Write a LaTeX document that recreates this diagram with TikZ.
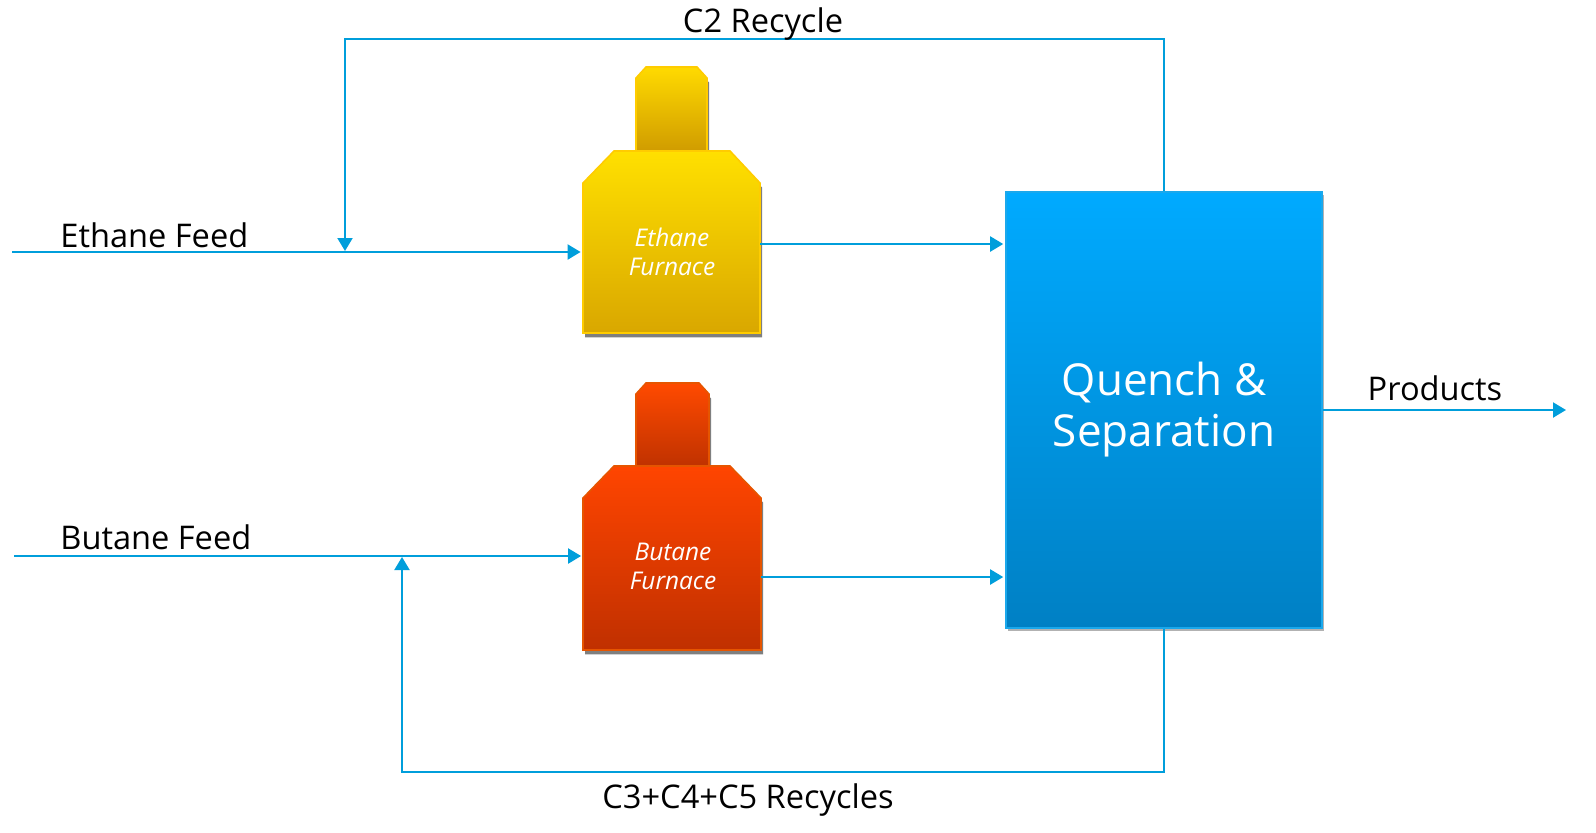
\documentclass[tikz,border=0pt]{standalone}
\usepackage{fontspec}
\setmainfont{Open Sans}
\usetikzlibrary{arrows.meta,shadows,calc}
\definecolor{flow}{HTML}{009EDB}
\definecolor{qtop}{HTML}{00AAFF}
\definecolor{qbot}{HTML}{0080C4}
\definecolor{qborder}{HTML}{1AA8EC}
\definecolor{ytop}{HTML}{FFE000}
\definecolor{ybot}{HTML}{D9A700}
\definecolor{yborder}{HTML}{FFCC00}
\definecolor{yntop}{HTML}{FFDA00}
\definecolor{ynbot}{HTML}{D09C00}
\definecolor{otop}{HTML}{FF4500}
\definecolor{obot}{HTML}{C03000}
\definecolor{oborder}{HTML}{E65500}
\definecolor{ontop}{HTML}{FF4A00}
\definecolor{onbot}{HTML}{C03200}
\begin{document}
\begin{tikzpicture}[x=0.5pt,y=-0.5pt,
  flowline/.style={draw=flow,line width=1.05pt},
  arr/.style={flowline,-{Triangle[length=6.5pt,width=7.5pt]}},
  lbl/.style={font=\fontsize{16.3}{19}\selectfont,text=black,inner sep=0pt},
  furnshadow/.style={drop shadow={shadow xshift=1pt,shadow yshift=-2.2pt,opacity=0.5,fill=black}},
  furntext/.style={font=\fontsize{12.2}{14.5}\selectfont\itshape,text=white,align=center,inner sep=0pt},
  furnbox/.style={minimum width=88.5pt,draw=none,fill=none},
  qbox/.style={draw=qborder,line width=0.8pt,top color=qtop,bottom color=qbot,
    minimum width=158pt,minimum height=218pt,text=white,align=center,
    font=\fontsize{22}{25.5}\selectfont,
    drop shadow={shadow xshift=1pt,shadow yshift=-1.5pt,opacity=0.3,fill=black}}
]
\useasboundingbox (0,0) rectangle (1596,832);

% ---- Ethane furnace
\path[furnshadow,draw=yborder,line width=0.8pt,top color=yntop,bottom color=ynbot]
  (636,151) -- (636,78) -- (646,67) -- (697,67) -- (707,78) -- (707,151) -- cycle;
\path[furnshadow,draw=yborder,line width=0.8pt,top color=ytop,bottom color=ybot]
  (583,333) -- (583,183) -- (614,151) -- (730,151) -- (760,183) -- (760,333) -- cycle;
\node[furnbox,minimum height=81pt] (ef) at (671.5,252) {};
\node[furntext] (eft) at (672,252) {Ethane\\Furnace};

% ---- Butane furnace
\path[furnshadow,draw=oborder,line width=0.8pt,top color=ontop,bottom color=onbot]
  (636,466) -- (636,394) -- (646,383) -- (699,383) -- (709,394) -- (709,466) -- cycle;
\path[furnshadow,draw=oborder,line width=0.8pt,top color=otop,bottom color=obot]
  (583,650) -- (583,498) -- (614,466) -- (730,466) -- (761,498) -- (761,650) -- cycle;
\node[furnbox,minimum height=84pt] (bf) at (672,566) {};
\node[furntext] (bft) at (673,566) {Butane\\Furnace};

% ---- Quench & Separation
\node[qbox] (qs) at (1164,410) {Quench \&\\Separation};

% ---- feeds
\coordinate (efin) at (12,252);
\coordinate (bfin) at (14,556);
\draw[arr,shorten >=1pt] (efin) -- (efin -| ef.west);
\draw[arr,shorten >=1pt] (bfin) -- (bfin -| bf.west);
\node[lbl,anchor=base west] (efl) at (60,247) {Ethane Feed};
\node[lbl,anchor=base west] (bfl) at (60,549) {Butane Feed};

% ---- furnace outlets
\draw[arr,shorten >=1pt] ($(ef.east)+(0,-8)$) coordinate (eo) -- (eo -| qs.west);
\draw[arr,shorten >=1pt] ($(bf.east)+(0,11)$) coordinate (bo) -- (bo -| qs.west);

% ---- products
\coordinate (prod) at (1566,410);
\draw[arr] (qs.east) -- (prod);
\node[lbl,anchor=base] (prodl) at (1435,400) {Products};

% ---- C2 recycle
\coordinate (c2c) at (345,39);
\draw[arr,shorten >=0.5pt] (qs.north) |- (c2c) -- (c2c |- efin);
\node[lbl,anchor=base] (c2l) at (763,32) {C2 Recycle};

% ---- C3+C4+C5 recycle
\coordinate (c3c) at (402,772);
\draw[arr,shorten >=0.5pt] (qs.south) |- (c3c) -- (c3c |- bfin);
\node[lbl,anchor=base] (c3l) at (748,808) {C3+C4+C5 Recycles};
\end{tikzpicture}
\end{document}
